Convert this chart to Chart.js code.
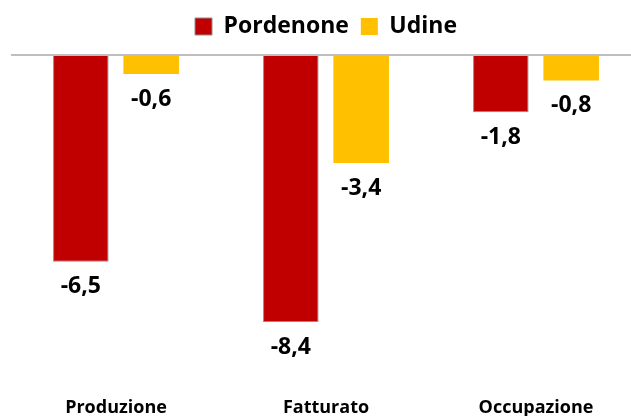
<!DOCTYPE html>
<html lang="it">
<head>
<meta charset="UTF-8">
<title>Pordenone vs Udine</title>
<script src="https://cdn.jsdelivr.net/npm/chart.js"></script>
<style>
  html, body { margin: 0; padding: 0; background: #fff; overflow: hidden; }
  #wrap { width: 641px; height: 416px; position: relative; }
</style>
</head>
<body>
<div id="wrap"><canvas id="chart"></canvas></div>
<script>
const categories = ['Produzione', 'Fatturato', 'Occupazione'];
const pordenone = [-6.5, -8.4, -1.8];
const udine = [-0.6, -3.4, -0.8];

const FONT = "'Open Sans'";

// etichette sotto le barre, formato italiano
const valueLabels = {
  id: 'valueLabels',
  afterDatasetsDraw(chart) {
    const ctx = chart.ctx;
    ctx.save();
    ctx.font = 'bold 23px ' + FONT;
    ctx.fillStyle = '#000';
    ctx.textAlign = 'center';
    ctx.textBaseline = 'middle';
    chart.data.datasets.forEach((ds, i) => {
      chart.getDatasetMeta(i).data.forEach((bar, j) => {
        const txt = ds.data[j].toFixed(1).replace('.', ',');
        ctx.fillText(txt, bar.x, bar.y + 25);
      });
    });
    ctx.restore();
  }
};

new Chart(document.getElementById('chart'), {
  type: 'bar',
  data: {
    labels: categories,
    datasets: [{
      label: 'Pordenone',
      data: pordenone,
      backgroundColor: '#C00000',
      borderColor: '#8c8c8c',
      borderWidth: 1,
      categoryPercentage: 0.67,
      barPercentage: 0.79
    }, {
      label: 'Udine',
      data: udine,
      backgroundColor: '#FFC000',
      borderWidth: 0,
      categoryPercentage: 0.67,
      barPercentage: 0.79
    }]
  },
  options: {
    responsive: true,
    maintainAspectRatio: false,
    animation: false,
    layout: { padding: { left: 11, right: 0, top: 3, bottom: 0 } },
    plugins: {
      legend: {
        position: 'top',
        labels: {
          color: '#000',
          font: { family: FONT, size: 23, weight: 'bold' },
          boxWidth: 17,
          boxHeight: 17,
          padding: 12
        }
      },
      tooltip: { enabled: false }
    },
    scales: {
      x: {
        grid: { display: false },
        border: { display: false },
        afterFit(scale) { scale.height = 43; },
        ticks: {
          color: '#000',
          padding: 16,
          font: { family: FONT, size: 18, weight: 'bold' }
        }
      },
      y: {
        min: -10,
        max: 0.22,
        border: { display: false },
        // solo la linea dello zero
        afterBuildTicks(scale) { scale.ticks = [{ value: 0 }]; },
        grid: {
          drawTicks: false,
          color: '#bfbfbf',
          lineWidth: 2
        },
        ticks: { display: false }
      }
    }
  },
  plugins: [valueLabels]
});
</script>
</body>
</html>
